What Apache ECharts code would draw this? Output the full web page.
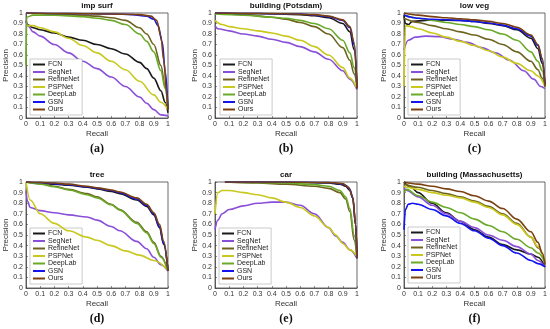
<!DOCTYPE html>
<html><head><meta charset="utf-8">
<script src="https://cdn.jsdelivr.net/npm/echarts@6/dist/echarts.min.js"></script>
<style>html,body{margin:0;padding:0;background:#fff}#c{width:550px;height:329px}</style>
</head><body><div id="c"></div>
<script>
const methods = ['FCN','SegNet','RefineNet','PSPNet','DeepLab','GSN','Ours'];
const colors = ['#1a1a1a','#8a4fd8','#6e6420','#c8c81e','#6aaa28','#1414f0','#7a4010'];
const panelTitles = ['imp surf','building (Potsdam)','low veg','tree','car','building (Massachusetts)'];
const panelLabels = ['(a)','(b)','(c)','(d)','(e)','(f)'];
const recallTicks = [0,0.1,0.2,0.3,0.4,0.5,0.6,0.7,0.8,0.9,1];

// (a) imp surf
const a_FCN = [[0,0.92],[0.01,0.89],[0.05,0.86],[0.1,0.84],[0.2,0.81],[0.3,0.77],[0.4,0.74],[0.5,0.7],[0.6,0.66],[0.7,0.61],[0.8,0.53],[0.85,0.47],[0.9,0.38],[0.95,0.26],[0.98,0.15],[1,0.05]];
const a_SegNet = [[0,0.93],[0.02,0.87],[0.05,0.82],[0.1,0.78],[0.2,0.7],[0.3,0.62],[0.4,0.54],[0.5,0.47],[0.6,0.39],[0.7,0.3],[0.8,0.2],[0.85,0.14],[0.9,0.08],[0.95,0.03],[1,0.02]];
const a_RefineNet = [[0,1],[0.1,0.995],[0.3,0.985],[0.5,0.97],[0.6,0.955],[0.7,0.93],[0.8,0.86],[0.85,0.8],[0.9,0.7],[0.95,0.5],[0.98,0.3],[1,0.08]];
const a_PSPNet = [[0,0.88],[0.05,0.88],[0.1,0.86],[0.2,0.82],[0.3,0.76],[0.4,0.69],[0.5,0.62],[0.6,0.54],[0.7,0.46],[0.8,0.35],[0.9,0.22],[0.95,0.15],[1,0.08]];
const a_DeepLab = [[0,0.5],[0.005,0.96],[0.05,0.98],[0.2,0.98],[0.4,0.965],[0.5,0.95],[0.6,0.93],[0.7,0.89],[0.8,0.8],[0.85,0.73],[0.9,0.63],[0.95,0.45],[0.98,0.28],[1,0.08]];
const a_GSN = [[0,1],[0.3,0.995],[0.6,0.99],[0.75,0.985],[0.85,0.97],[0.9,0.94],[0.93,0.88],[0.96,0.72],[0.98,0.45],[1,0.08]];
const a_Ours = [[0,1],[0.3,0.995],[0.6,0.99],[0.8,0.985],[0.88,0.97],[0.92,0.93],[0.95,0.78],[0.97,0.55],[0.99,0.25],[1,0.08]];

// (b) building (Potsdam)
const b_FCN = [[0,1],[0.3,0.995],[0.6,0.985],[0.7,0.975],[0.8,0.955],[0.9,0.9],[0.95,0.82],[0.98,0.65],[1,0.3]];
const b_SegNet = [[0,0.88],[0.02,0.85],[0.1,0.83],[0.2,0.8],[0.3,0.78],[0.4,0.75],[0.5,0.72],[0.6,0.68],[0.7,0.63],[0.8,0.56],[0.9,0.45],[0.95,0.37],[1,0.27]];
const b_RefineNet = [[0,1],[0.2,0.985],[0.4,0.96],[0.5,0.94],[0.6,0.91],[0.7,0.87],[0.8,0.8],[0.9,0.67],[0.95,0.55],[0.98,0.42],[1,0.3]];
const b_PSPNet = [[0,0.93],[0.05,0.89],[0.1,0.87],[0.2,0.85],[0.3,0.83],[0.4,0.81],[0.5,0.78],[0.6,0.74],[0.7,0.68],[0.8,0.6],[0.9,0.48],[0.95,0.38],[1,0.28]];
const b_DeepLab = [[0,0.99],[0.2,0.98],[0.4,0.96],[0.5,0.95],[0.6,0.93],[0.7,0.9],[0.8,0.85],[0.9,0.74],[0.95,0.62],[0.98,0.48],[1,0.3]];
const b_GSN = [[0,1],[0.3,0.995],[0.6,0.99],[0.7,0.98],[0.8,0.965],[0.9,0.93],[0.95,0.86],[0.98,0.7],[1,0.28]];
const b_Ours = [[0,1],[0.4,0.995],[0.7,0.985],[0.8,0.97],[0.9,0.935],[0.95,0.87],[0.98,0.72],[1,0.28]];

// (c) low veg
const c_FCN = [[0,0.98],[0.01,0.9],[0.03,0.89],[0.06,0.92],[0.2,0.935],[0.4,0.93],[0.5,0.92],[0.6,0.9],[0.7,0.88],[0.8,0.84],[0.9,0.76],[0.95,0.66],[0.98,0.52],[1,0.3]];
const c_SegNet = [[0,0.65],[0.03,0.74],[0.08,0.77],[0.15,0.78],[0.25,0.775],[0.35,0.75],[0.45,0.72],[0.55,0.67],[0.65,0.62],[0.75,0.55],[0.85,0.45],[0.92,0.37],[0.97,0.3],[1,0.28]];
const c_RefineNet = [[0,0.95],[0.1,0.91],[0.2,0.88],[0.3,0.85],[0.4,0.82],[0.5,0.79],[0.6,0.75],[0.7,0.7],[0.8,0.63],[0.9,0.54],[0.95,0.46],[0.98,0.38],[1,0.3]];
const c_PSPNet = [[0,0.3],[0.01,0.88],[0.05,0.87],[0.1,0.85],[0.2,0.81],[0.3,0.77],[0.4,0.73],[0.5,0.69],[0.6,0.64],[0.7,0.58],[0.8,0.52],[0.9,0.45],[0.95,0.4],[1,0.3]];
const c_DeepLab = [[0,0.98],[0.1,0.95],[0.2,0.93],[0.3,0.91],[0.4,0.89],[0.5,0.87],[0.6,0.84],[0.7,0.8],[0.8,0.74],[0.9,0.63],[0.95,0.54],[0.98,0.45],[1,0.3]];
const c_GSN = [[0,0.98],[0.05,0.96],[0.1,0.95],[0.2,0.94],[0.4,0.93],[0.5,0.92],[0.6,0.905],[0.7,0.885],[0.8,0.85],[0.9,0.78],[0.95,0.69],[0.98,0.56],[1,0.32]];
const c_Ours = [[0,1],[0.1,0.98],[0.2,0.965],[0.3,0.955],[0.4,0.945],[0.5,0.935],[0.6,0.92],[0.7,0.9],[0.8,0.865],[0.9,0.79],[0.95,0.7],[0.98,0.57],[1,0.3]];

// (d) tree
const d_FCN = [[0,1],[0.1,0.99],[0.2,0.98],[0.3,0.97],[0.43,0.95],[0.5,0.935],[0.6,0.91],[0.66,0.89],[0.78,0.83],[0.85,0.77],[0.9,0.69],[0.94,0.57],[0.97,0.41],[1,0.16]];
const d_SegNet = [[0,0.92],[0.01,0.82],[0.03,0.76],[0.1,0.73],[0.2,0.71],[0.3,0.69],[0.43,0.67],[0.5,0.64],[0.6,0.58],[0.66,0.54],[0.78,0.44],[0.85,0.37],[0.9,0.29],[0.95,0.22],[1,0.16]];
const d_RefineNet = [[0,1],[0.1,0.985],[0.2,0.96],[0.3,0.93],[0.43,0.89],[0.5,0.86],[0.6,0.79],[0.66,0.74],[0.78,0.62],[0.85,0.53],[0.9,0.43],[0.95,0.3],[1,0.16]];
const d_PSPNet = [[0,1],[0.03,0.83],[0.1,0.7],[0.2,0.61],[0.3,0.54],[0.43,0.48],[0.5,0.45],[0.6,0.4],[0.7,0.35],[0.8,0.31],[0.9,0.26],[1,0.17]];
const d_DeepLab = [[0,1],[0.1,0.98],[0.2,0.955],[0.3,0.925],[0.43,0.88],[0.5,0.85],[0.6,0.785],[0.66,0.735],[0.78,0.61],[0.85,0.52],[0.9,0.42],[0.95,0.29],[1,0.16]];
const d_GSN = [[0,1],[0.1,0.995],[0.2,0.985],[0.3,0.975],[0.43,0.955],[0.5,0.94],[0.6,0.92],[0.66,0.9],[0.78,0.84],[0.85,0.78],[0.9,0.7],[0.94,0.58],[0.97,0.42],[1,0.16]];
const d_Ours = [[0,1],[0.1,0.997],[0.2,0.99],[0.3,0.98],[0.43,0.96],[0.5,0.945],[0.6,0.925],[0.66,0.905],[0.78,0.85],[0.85,0.79],[0.9,0.71],[0.94,0.6],[0.97,0.44],[1,0.16]];

// (e) car
const e_FCN = [[0.07,1],[0.3,1],[0.6,0.995],[0.8,0.99],[0.88,0.98],[0.92,0.96],[0.95,0.92],[0.97,0.85],[0.99,0.6],[1,0.28]];
const e_SegNet = [[0,0.55],[0.02,0.64],[0.05,0.7],[0.1,0.74],[0.2,0.775],[0.3,0.8],[0.4,0.81],[0.5,0.81],[0.6,0.78],[0.7,0.7],[0.8,0.57],[0.85,0.49],[0.9,0.43],[0.95,0.36],[1,0.28]];
const e_RefineNet = [[0.07,1],[0.3,0.99],[0.5,0.98],[0.7,0.96],[0.8,0.94],[0.88,0.9],[0.92,0.84],[0.95,0.72],[0.98,0.45],[1,0.28]];
const e_PSPNet = [[0,0.7],[0.02,0.9],[0.05,0.92],[0.1,0.92],[0.2,0.9],[0.3,0.88],[0.4,0.85],[0.5,0.81],[0.6,0.76],[0.7,0.68],[0.8,0.57],[0.85,0.5],[0.9,0.42],[0.95,0.36],[1,0.3]];
const e_DeepLab = [[0.07,1],[0.3,0.995],[0.5,0.99],[0.7,0.975],[0.8,0.96],[0.88,0.92],[0.92,0.86],[0.95,0.75],[0.98,0.5],[1,0.28]];
const e_GSN = [[0.07,1],[0.5,1],[0.8,0.995],[0.88,0.985],[0.92,0.97],[0.95,0.93],[0.97,0.85],[0.99,0.6],[1,0.28]];
const e_Ours = [[0.07,1],[0.5,1],[0.8,0.995],[0.9,0.985],[0.94,0.95],[0.97,0.86],[0.99,0.6],[1,0.28]];

// (f) building (Massachusetts)
const f_FCN = [[0,1],[0.05,0.95],[0.1,0.9],[0.2,0.8],[0.3,0.71],[0.4,0.63],[0.5,0.55],[0.6,0.48],[0.7,0.41],[0.8,0.36],[0.9,0.32],[0.95,0.29],[1,0.2]];
const f_SegNet = [[0,0.95],[0.02,0.92],[0.1,0.86],[0.2,0.78],[0.3,0.7],[0.4,0.63],[0.5,0.57],[0.6,0.5],[0.7,0.45],[0.8,0.39],[0.9,0.32],[0.95,0.26],[1,0.2]];
const f_RefineNet = [[0,0.98],[0.1,0.95],[0.2,0.92],[0.3,0.89],[0.4,0.86],[0.5,0.82],[0.6,0.77],[0.7,0.7],[0.8,0.61],[0.9,0.48],[0.95,0.38],[1,0.25]];
const f_PSPNet = [[0,0.96],[0.02,0.95],[0.1,0.93],[0.2,0.9],[0.3,0.875],[0.4,0.85],[0.5,0.81],[0.6,0.76],[0.7,0.69],[0.8,0.6],[0.9,0.48],[0.95,0.39],[1,0.25]];
const f_DeepLab = [[0,0.9],[0.02,0.93],[0.1,0.87],[0.2,0.81],[0.3,0.76],[0.4,0.71],[0.5,0.65],[0.6,0.59],[0.7,0.53],[0.8,0.46],[0.9,0.38],[0.95,0.33],[1,0.24]];
const f_GSN = [[0,0.55],[0.01,0.74],[0.03,0.79],[0.06,0.8],[0.1,0.79],[0.2,0.74],[0.3,0.68],[0.4,0.61],[0.5,0.54],[0.6,0.47],[0.7,0.4],[0.8,0.33],[0.9,0.26],[0.95,0.23],[1,0.2]];
const f_Ours = [[0,1],[0.1,0.98],[0.2,0.96],[0.3,0.935],[0.4,0.91],[0.5,0.87],[0.6,0.82],[0.7,0.75],[0.8,0.65],[0.9,0.53],[0.95,0.43],[0.98,0.33],[1,0.22]];

const panels = [
  [a_FCN,a_SegNet,a_RefineNet,a_PSPNet,a_DeepLab,a_GSN,a_Ours],
  [b_FCN,b_SegNet,b_RefineNet,b_PSPNet,b_DeepLab,b_GSN,b_Ours],
  [c_FCN,c_SegNet,c_RefineNet,c_PSPNet,c_DeepLab,c_GSN,c_Ours],
  [d_FCN,d_SegNet,d_RefineNet,d_PSPNet,d_DeepLab,d_GSN,d_Ours],
  [e_FCN,e_SegNet,e_RefineNet,e_PSPNet,e_DeepLab,e_GSN,e_Ours],
  [f_FCN,f_SegNet,f_RefineNet,f_PSPNet,f_DeepLab,f_GSN,f_Ours]
];

const FONT = 'Liberation Sans';
const grids = [
  {left:26, top:13, width:142, height:105},
  {left:215, top:13, width:142, height:105},
  {left:404, top:13, width:141, height:105},
  {left:26, top:182, width:142, height:106},
  {left:215, top:182, width:142, height:106},
  {left:404, top:182, width:141, height:106}
];
const legendPos = [[30,59],[220,59],[408,59],[30,228],[219,228],[408,227]];

const option = {
  animation:false,
  backgroundColor:'#fff',
  title:[], legend:[], grid:[], xAxis:[], yAxis:[], series:[]
};
grids.forEach((g,i)=>{
  option.grid.push(Object.assign({show:true, borderColor:'#444', borderWidth:0.8, backgroundColor:'#fff'}, g));
  const cx = g.left + g.width/2;
  option.title.push({text:panelTitles[i], left:cx, top:g.top-11, textAlign:'center', padding:0,
    textStyle:{fontFamily:FONT, fontSize:8, fontWeight:'bold', color:'#111'}});
  option.title.push({text:panelLabels[i], left:cx, top:g.top+g.height+25, textAlign:'center', padding:0,
    textStyle:{fontFamily:'Liberation Serif', fontSize:12, fontWeight:'bold', color:'#111'}});
  const axisCommon = {min:0, max:1, interval:0.1, gridIndex:i,
    axisLine:{show:true, lineStyle:{color:'#444', width:0.8}},
    axisTick:{show:true, inside:true, length:2, lineStyle:{color:'#444', width:0.6}},
    splitLine:{show:false},
    axisLabel:{fontFamily:FONT, fontSize:7, color:'#333', margin:3,
      formatter:v=>{ const t = recallTicks.find(r=>Math.abs(r-v)<1e-6); return t===undefined? '' : String(t); }},
    nameTextStyle:{fontFamily:FONT, fontSize:8, color:'#333'}};
  option.xAxis.push(Object.assign({type:'value', name:'Recall', nameLocation:'middle', nameGap:12}, axisCommon));
  option.yAxis.push(Object.assign({type:'value', name:'Precision', nameLocation:'middle', nameGap:13}, axisCommon));
  option.legend.push({data:methods, orient:'vertical', left:legendPos[i][0], top:legendPos[i][1],
    icon:'rect', itemWidth:12, itemHeight:2, itemGap:0.5, padding:[2,3,2,3],
    borderColor:'#aaa', borderWidth:0.6, backgroundColor:'#fff', selectedMode:false,
    textStyle:{fontFamily:FONT, fontSize:7, color:'#222', lineHeight:7, padding:[0,0,0,-2]}});
  panels[i].forEach((d,k)=>{
    option.series.push({type:'line', name:methods[k], xAxisIndex:i, yAxisIndex:i, data:d,
      showSymbol:false, symbol:'none', smooth:0.35, smoothMonotone:'x', z:2+k,
      itemStyle:{color:colors[k]}, lineStyle:{color:colors[k], width:1.6}});
  });
});
const chart = echarts.init(document.getElementById('c'), null, {renderer:'canvas'});
chart.setOption(option);
</script></body></html>
